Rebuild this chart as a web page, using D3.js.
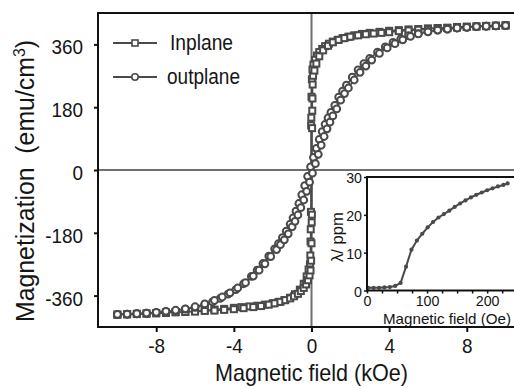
<!DOCTYPE html>
<html><head><meta charset="utf-8">
<script src="https://cdn.jsdelivr.net/npm/d3@7"></script>
<style>
html,body{margin:0;padding:0;background:#fff;overflow:hidden}
svg{display:block}
text{font-family:'Liberation Sans Narrow','Arial Narrow','Liberation Sans',Arial,sans-serif;fill:#151515}
</style></head><body>
<svg id="c" width="514" height="388"></svg>
<script>
// ---------- data ----------
const xTicks = [-8, -4, 0, 4, 8];
const yTicks = [-360, -180, 0, 180, 360];
const insetXTicks = [0, 100, 200];
const insetXMinor = [25, 50, 75, 125, 150, 175, 225, 250];
const insetYTicks = [0, 10, 20, 30];
const seriesNames = ["Inplane", "outplane"];

// Inplane loop (kOe, emu/cm3)
const inDownH = [10,9.5,9,8.5,8,7.5,7,6.5,6,5.5,5,4.5,4,3.5,3,2.6,2.2,1.9,1.6,1.35,1.1,0.9,0.7,0.55,0.4,0.28,0.18,0.1,0.05,0.02,0,-0.01,-0.02,-0.03,-0.04,-0.05,-0.06,-0.08,-0.15,-0.25,-0.4,-0.6,-0.85,-1.1,-1.4,-1.7,-2,-2.4,-2.8,-3.2,-3.6,-4,-4.5,-5,-5.5,-6,-6.5,-7,-7.5,-8,-8.5,-9,-9.5,-10];
const inDownM = [415,414,413,412,411,410,408,407,406,404,403,401,399,396,393,390,386,382,378,373,368,362,355,347,338,328,316,302,288,260,210,150,128,-120,-170,-205,-245,-270,-285,-305,-326,-343,-356,-366,-373,-378,-382,-386,-389,-391,-393,-395,-398,-400,-402,-404,-406,-407,-408,-410,-411,-412,-413,-414];
const inUpH = [-10,-9.5,-9,-8.5,-8,-7.5,-7,-6.5,-6,-5.5,-5,-4.5,-4,-3.5,-3,-2.6,-2.2,-1.9,-1.6,-1.35,-1.1,-0.9,-0.7,-0.55,-0.4,-0.28,-0.18,-0.1,-0.05,-0.02,0,0.01,0.02,0.03,0.04,0.05,0.06,0.08,0.15,0.25,0.4,0.6,0.85,1.1,1.4,1.7,2,2.4,2.8,3.2,3.6,4,4.5,5,5.5,6,6.5,7,7.5,8,8.5,9,9.5,10];
const inUpM = [-415,-414,-413,-412,-411,-410,-408,-407,-406,-404,-403,-401,-399,-396,-393,-390,-386,-382,-378,-373,-368,-362,-355,-347,-338,-328,-316,-302,-288,-260,-210,-150,-128,120,170,205,245,270,285,305,326,343,356,366,373,378,382,386,389,391,393,395,398,400,402,404,406,407,408,410,411,412,413,414];

// Outplane loop (kOe, emu/cm3)
const outDownH = [10,9.5,9,8.5,8,7.5,7,6.5,6,5.5,5,4.6,4.2,3.8,3.4,3.0,2.7,2.4,2.1,1.8,1.6,1.4,1.2,1.0,0.85,0.7,0.55,0.4,0.25,0.1,-0.05,-0.2,-0.35,-0.5,-0.65,-0.8,-0.95,-1.1,-1.3,-1.5,-1.7,-1.9,-2.2,-2.5,-2.8,-3.1,-3.5,-3.9,-4.3,-4.7,-5.1,-5.5,-6,-6.5,-7,-7.5,-8,-8.5,-9,-9.5,-10];
const outDownM = [414,413,412,411,409,407,404,401,397,391,385,376,366,353,338,320,305,287,266,243,226,209,185,165,149,131,110,88,62,36,9,-18,-45,-71,-96,-118,-137,-155,-175,-194,-211,-226,-247,-268,-287,-305,-326,-343,-356,-368,-378,-386,-394,-399,-403,-406,-409,-410,-412,-413,-414];
const outUpH = [-10,-9.5,-9,-8.5,-8,-7.5,-7,-6.5,-6,-5.5,-5,-4.6,-4.2,-3.8,-3.4,-3.0,-2.7,-2.4,-2.1,-1.8,-1.6,-1.4,-1.2,-1.0,-0.85,-0.7,-0.55,-0.4,-0.25,-0.1,0.05,0.2,0.35,0.5,0.65,0.8,0.95,1.1,1.3,1.5,1.7,1.9,2.2,2.5,2.8,3.1,3.5,3.9,4.3,4.7,5.1,5.5,6,6.5,7,7.5,8,8.5,9,9.5,10];
const outUpM = [-414,-413,-412,-410,-408,-405,-402,-398,-392,-384,-374,-364,-352,-338,-323,-304,-287,-269,-248,-228,-214,-200,-183,-163,-147,-129,-108,-86,-61,-35,-9,18,45,71,96,118,137,155,175,200,219,235,258,280,298,315,334,350,362,373,383,390,396,401,404,407,409,411,412,413,414];

// Inset: magnetostriction vs field (Oe, ppm)
const lamH = [2,11,20,29,38,47,56,65,74,83,92,101,110,119,128,137,146,155,164,173,182,191,200,209,218,227,234];
const lamV = [0.7,0.7,0.7,0.8,0.9,1.2,2.0,6.3,10.8,13.2,15.0,16.7,18.1,19.3,20.2,21.1,22.1,23.0,23.8,24.6,25.3,25.9,26.5,27.0,27.5,27.9,28.3];

// ---------- helpers ----------
const svg = d3.select('#c');
const ink = '#4a4a4a';
function squeeze(sel, factor) {
  sel.each(function () {
    const len = this.getComputedTextLength();
    d3.select(this).attr('textLength', len * factor).attr('lengthAdjust', 'spacingAndGlyphs');
  });
}
function fitTo(sel, width) {
  sel.attr('textLength', width).attr('lengthAdjust', 'spacingAndGlyphs');
}
function zip(H, V) { return H.map((h, i) => [h, V[i]]); }

// ---------- main plot ----------
const P = {left: 98, top: 13, right: 525, bottom: 327};
const x = d3.scaleLinear().domain([-11, 11]).range([P.left, P.right]);
const y = d3.scaleLinear().domain([-450, 450]).range([P.bottom, P.top]);

svg.append('line').attr('x1', P.left).attr('x2', P.right).attr('y1', y(0)).attr('y2', y(0))
  .attr('stroke', '#707070').attr('stroke-width', 2);
svg.append('line').attr('x1', x(0)).attr('x2', x(0)).attr('y1', P.top).attr('y2', P.bottom)
  .attr('stroke', '#707070').attr('stroke-width', 2);

const line = d3.line().x(d => x(d[0])).y(d => y(d[1]));
function drawSeries(branches, shape) {
  const g = svg.append('g');
  branches.forEach(pts => {
    g.append('path').attr('d', line(pts)).attr('fill', 'none')
      .attr('stroke', ink).attr('stroke-width', 1.5);
  });
  branches.forEach(pts => {
    if (shape === 'square') {
      g.selectAll(null).data(pts).enter().append('rect')
        .attr('x', d => x(d[0]) - 3).attr('y', d => y(d[1]) - 3)
        .attr('width', 6).attr('height', 6)
        .attr('fill', '#fff').attr('stroke', ink).attr('stroke-width', 2);
    } else {
      g.selectAll(null).data(pts).enter().append('circle')
        .attr('cx', d => x(d[0])).attr('cy', d => y(d[1])).attr('r', 3.4)
        .attr('fill', '#fff').attr('stroke', ink).attr('stroke-width', 2);
    }
  });
}
drawSeries([zip(inDownH, inDownM), zip(inUpH, inUpM)], 'square');
drawSeries([zip(outDownH, outDownM), zip(outUpH, outUpM)], 'circle');

svg.append('rect').attr('x', P.left).attr('y', P.top)
  .attr('width', P.right - P.left).attr('height', P.bottom - P.top)
  .attr('fill', 'none').attr('stroke', '#111').attr('stroke-width', 2);

const ax = svg.append('g').attr('transform', `translate(0,${P.bottom})`)
  .call(d3.axisBottom(x).tickValues(xTicks).tickFormat(d => String(d)).tickSize(5).tickPadding(6).tickSizeOuter(0));
const ay = svg.append('g').attr('transform', `translate(${P.left},0)`)
  .call(d3.axisLeft(y).tickValues(yTicks).tickFormat(d => String(d)).tickSize(4).tickPadding(11).tickSizeOuter(0));
[ax, ay].forEach(a => {
  a.select('.domain').remove();
  a.selectAll('.tick line').attr('stroke', '#111').attr('stroke-width', 2);
  a.selectAll('.tick text').attr('font-size', 21).attr('font-family', null).attr('fill', '#151515');
  squeeze(a.selectAll('.tick text'), 0.9);
});
ay.selectAll('.tick text').attr('dy', '0.45em');

// axis titles
const xt = svg.append('text').attr('x', x(0)).attr('y', 381).attr('text-anchor', 'middle')
  .attr('font-size', 24).text('Magnetic field (kOe)');
fitTo(xt, 193);
const yt = svg.append('text').attr('transform', `translate(34,181) rotate(-90)`)
  .attr('text-anchor', 'middle').attr('font-size', 25);
yt.append('tspan').text('Magnetization\u00a0\u00a0(emu/cm');
yt.append('tspan').attr('font-size', 16).attr('dy', -9).text('3');
yt.append('tspan').attr('dy', 9).text(')');
fitTo(yt, 282);

// legend
const legRows = [
  {name: seriesNames[0], shape: 'square', y: 43, tx: 170, w: 63},
  {name: seriesNames[1], shape: 'circle', y: 77, tx: 167, w: 73}
];
legRows.forEach(r => {
  svg.append('line').attr('x1', 113).attr('x2', 157).attr('y1', r.y).attr('y2', r.y)
    .attr('stroke', ink).attr('stroke-width', 1.8);
  if (r.shape === 'square') {
    svg.append('rect').attr('x', 132).attr('y', r.y - 3).attr('width', 6).attr('height', 6)
      .attr('fill', '#fff').attr('stroke', ink).attr('stroke-width', 1.6);
  } else {
    svg.append('circle').attr('cx', 135).attr('cy', r.y).attr('r', 3.2)
      .attr('fill', '#fff').attr('stroke', ink).attr('stroke-width', 1.6);
  }
  const t = svg.append('text').attr('x', r.tx).attr('y', r.y + 6.5).attr('font-size', 22).text(r.name);
  fitTo(t, r.w);
});

// ---------- inset ----------
const I = {left: 367, top: 177, right: 525, bottom: 290.5};
const xi = d3.scaleLinear().domain([0, 263]).range([I.left, I.right]);
const yi = d3.scaleLinear().domain([0, 30]).range([I.bottom, I.top]);
svg.append('rect').attr('x', I.left).attr('y', I.top)
  .attr('width', I.right - I.left).attr('height', I.bottom - I.top)
  .attr('fill', '#fff').attr('stroke', 'none');

const lamPts = zip(lamH, lamV);
svg.append('path').attr('d', d3.line().x(d => xi(d[0])).y(d => yi(d[1]))(lamPts))
  .attr('fill', 'none').attr('stroke', ink).attr('stroke-width', 2);
svg.selectAll(null).data(lamPts).enter().append('circle')
  .attr('cx', d => xi(d[0])).attr('cy', d => yi(d[1])).attr('r', 2.1).attr('fill', ink);

svg.append('rect').attr('x', I.left).attr('y', I.top)
  .attr('width', I.right - I.left).attr('height', I.bottom - I.top)
  .attr('fill', 'none').attr('stroke', '#111').attr('stroke-width', 2);

const axi = svg.append('g').attr('transform', `translate(0,${I.bottom})`)
  .call(d3.axisBottom(xi).tickValues(insetXTicks).tickSize(3).tickPadding(1.5).tickSizeOuter(0));
svg.append('g').attr('transform', `translate(0,${I.bottom})`)
  .call(d3.axisBottom(xi).tickValues(insetXMinor).tickSize(3).tickFormat('').tickSizeOuter(0))
  .call(g => g.select('.domain').remove())
  .selectAll('.tick line').attr('stroke', '#111').attr('stroke-width', 1.5);
const ayi = svg.append('g').attr('transform', `translate(${I.left},0)`)
  .call(d3.axisLeft(yi).tickValues(insetYTicks).tickSize(3).tickPadding(2).tickSizeOuter(0));
[axi, ayi].forEach(a => {
  a.select('.domain').remove();
  a.selectAll('.tick line').attr('stroke', '#111').attr('stroke-width', 1.5);
  a.selectAll('.tick text').attr('font-size', 15.5).attr('font-family', null).attr('fill', '#151515');
  squeeze(a.selectAll('.tick text'), 0.92);
});
ayi.selectAll('.tick text').attr('dy', '0.36em');

const ixt = svg.append('text').attr('x', 447).attr('y', 323.5).attr('text-anchor', 'middle')
  .attr('font-size', 15).text('Magnetic field (Oe)');
fitTo(ixt, 128);
const iyt = svg.append('text').attr('transform', 'translate(343,237) rotate(-90)')
  .attr('text-anchor', 'middle').attr('font-size', 17).text('λ/ ppm');
fitTo(iyt, 50);
</script>
</body></html>
